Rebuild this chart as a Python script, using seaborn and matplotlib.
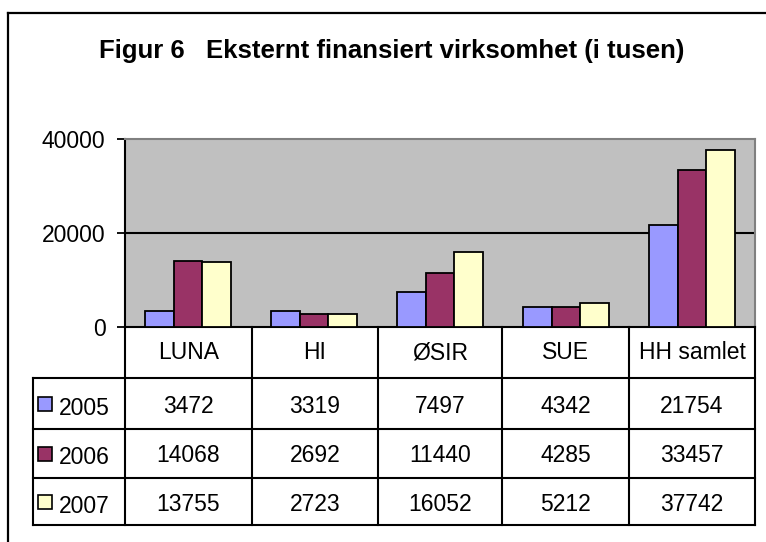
import pandas as pd
import matplotlib
matplotlib.use("Agg")
import matplotlib.pyplot as plt
from matplotlib.lines import Line2D
from matplotlib.patches import Rectangle
import seaborn as sns

categories = ["LUNA", "HI", "ØSIR", "SUE", "HH samlet"]
years = ["2005", "2006", "2007"]
v2005 = [3472, 3319, 7497, 4342, 21754]
v2006 = [14068, 2692, 11440, 4285, 33457]
v2007 = [13755, 2723, 16052, 5212, 37742]
colors = ["#9999FF", "#993366", "#FFFFCC"]

values = [v2005, v2006, v2007]
df = pd.DataFrame({
    "enhet": categories * 3,
    "aar": [y for y in years for _ in categories],
    "verdi": v2005 + v2006 + v2007,
})

sns.set_style("white")
plt.rcParams["font.family"] = ["Liberation Sans", "DejaVu Sans"]
plt.rcParams["text.color"] = "black"
plt.rcParams["ytick.color"] = "black"
plt.rcParams["xtick.color"] = "black"

W, H = 766, 542
fig = plt.figure(figsize=(W / 100, H / 100), dpi=100)


def fx(x):
    return x / W


def fy(y):
    return 1 - y / H


def line(x0, y0, x1, y1, lw=1.5, color="black"):
    fig.add_artist(Line2D([fx(x0), fx(x1)], [fy(y0), fy(y1)],
                          transform=fig.transFigure, color=color, lw=lw,
                          solid_capstyle="projecting"))


# plot area
left, top, right, bottom = 125, 139, 755, 327
ax = fig.add_axes([fx(left), fy(bottom), (right - left) / W, (bottom - top) / H])
ax.set_facecolor("#C0C0C0")
sns.barplot(data=df, x="enhet", y="verdi", hue="aar", palette=colors,
            saturation=1, width=0.675, edgecolor="black", linewidth=1.3,
            legend=False, ax=ax, zorder=3)
ax.axhline(20000, color="black", lw=1.5, zorder=1)
ax.set_ylim(0, 40000)
ax.set_xlim(-0.5, len(categories) - 0.5)
ax.set_yticks([0, 20000, 40000])
ax.set_yticklabels(["0", "20000", "40000"], fontsize=16.5)
ax.set_xticks([])
ax.set_xlabel("")
ax.set_ylabel("")
ax.tick_params(axis="y", direction="out", length=6, width=1.3, pad=8, left=True)
for s in ["top", "right"]:
    ax.spines[s].set_color("#808080")
    ax.spines[s].set_linewidth(1.5)
for s in ["left", "bottom"]:
    ax.spines[s].set_color("black")
    ax.spines[s].set_linewidth(1.5)

# title
fig.text(fx(392), fy(58), "Figur 6   Eksternt finansiert virksomhet (i tusen)",
         ha="center", va="baseline", fontsize=18.5, fontweight="bold")

# outer frame
line(8, H + 5, 8, 13, lw=1.6)
line(8, 13, W + 5, 13, lw=1.6)

# data table
col_x = [125, 252, 378, 502, 629, 755]
row_y = [327, 378, 429, 478, 525]
for x in col_x:
    line(x, 327, x, 525)
line(33, 378, 33, 525)
for y in row_y[1:]:
    line(33, y, 755, y)

centers = [(col_x[i] + col_x[i + 1]) / 2 for i in range(len(categories))]
for cx, name in zip(centers, categories):
    fig.text(fx(cx), fy(359), name, ha="center", va="baseline", fontsize=16.5)

baselines = [413, 462, 511]
for r, (yr, vals, c) in enumerate(zip(years, values, colors)):
    yc = (row_y[r + 1] + row_y[r + 2]) / 2
    fig.add_artist(Rectangle((fx(38), fy(yc + 7)), 14 / W, 14 / H,
                             transform=fig.transFigure, facecolor=c,
                             edgecolor="black", lw=1.2))
    fig.text(fx(59), fy(baselines[r] + 2), yr, ha="left", va="baseline",
             fontsize=16.5)
    for cx, v in zip(centers, vals):
        fig.text(fx(cx), fy(baselines[r]), str(v), ha="center",
                 va="baseline", fontsize=16.5)

fig.savefig("out.png", dpi=100, facecolor="white")
